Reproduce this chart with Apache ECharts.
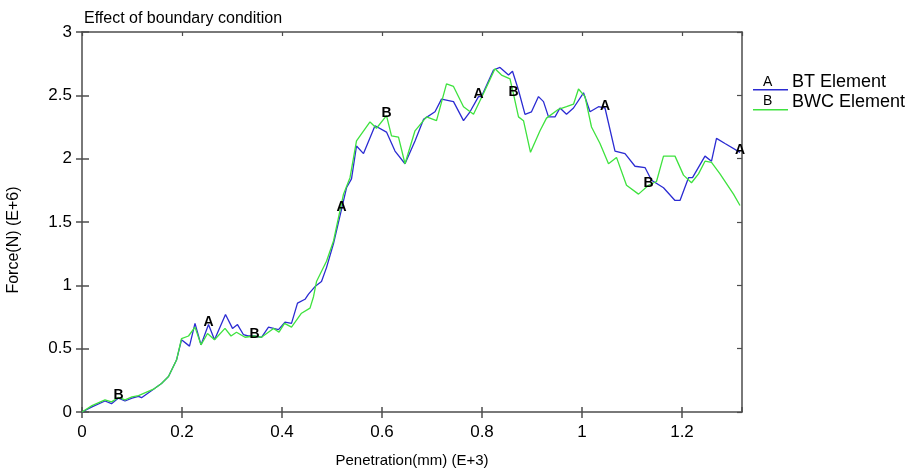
<!DOCTYPE html>
<html>
<head>
<meta charset="utf-8">
<script src="https://cdn.jsdelivr.net/npm/echarts@6/dist/echarts.min.js"></script>
<style>
  html, body { margin: 0; padding: 0; background: #fff; }
  #chart { width: 924px; height: 468px; }
</style>
</head>
<body>
<div id="chart"></div>
<script>
// values: penetration (E+3 mm) and force (E+6 N)
var btX = [0, 0.02, 0.046, 0.059, 0.073, 0.086, 0.10, 0.113, 0.119, 0.143, 0.159, 0.173, 0.189, 0.199,
  0.215, 0.226, 0.238, 0.253, 0.265, 0.287, 0.301, 0.311, 0.323, 0.332, 0.345, 0.359, 0.373, 0.393,
  0.406, 0.419, 0.431, 0.446, 0.453, 0.466, 0.479, 0.489, 0.503, 0.519, 0.529, 0.539, 0.549, 0.563,
  0.586, 0.609, 0.626, 0.646, 0.666, 0.683, 0.706, 0.719, 0.743, 0.763, 0.776, 0.793, 0.799, 0.823,
  0.836, 0.853, 0.861, 0.873, 0.886, 0.899, 0.913, 0.923, 0.933, 0.946, 0.956, 0.969, 0.983, 1.003,
  1.016, 1.033, 1.046, 1.066, 1.086, 1.106, 1.126, 1.139, 1.163, 1.186, 1.196, 1.213, 1.221, 1.246,
  1.259, 1.269, 1.286, 1.316];
var btY = [0, 0.04, 0.087, 0.066, 0.11, 0.087, 0.11, 0.124, 0.113, 0.18, 0.225, 0.28, 0.41, 0.57,
  0.52, 0.70, 0.53, 0.69, 0.57, 0.77, 0.66, 0.69, 0.61, 0.60, 0.60, 0.59, 0.67, 0.65,
  0.71, 0.70, 0.86, 0.89, 0.93, 0.99, 1.03, 1.14, 1.33, 1.60, 1.77, 1.84, 2.10, 2.04,
  2.26, 2.21, 2.06, 1.96, 2.14, 2.31, 2.37, 2.47, 2.45, 2.30, 2.37, 2.49, 2.49, 2.70,
  2.72, 2.66, 2.69, 2.54, 2.35, 2.37, 2.49, 2.45, 2.33, 2.33, 2.40, 2.35, 2.40, 2.52,
  2.37, 2.41, 2.40, 2.06, 2.04, 1.94, 1.93, 1.83, 1.77, 1.67, 1.67, 1.85, 1.85, 2.02,
  1.98, 2.16, 2.12, 2.05];

var bwcX = [0, 0.02, 0.046, 0.059, 0.073, 0.086, 0.10, 0.113, 0.143, 0.159, 0.173, 0.189, 0.199,
  0.213, 0.226, 0.238, 0.251, 0.265, 0.286, 0.298, 0.309, 0.326, 0.345, 0.359, 0.383, 0.394,
  0.405, 0.419, 0.439, 0.456, 0.463, 0.469, 0.489, 0.503, 0.523, 0.536, 0.549, 0.576, 0.589,
  0.609, 0.619, 0.633, 0.646, 0.666, 0.689, 0.709, 0.729, 0.743, 0.763, 0.783, 0.806, 0.826,
  0.839, 0.856, 0.863, 0.873, 0.883, 0.897, 0.916, 0.929, 0.953, 0.969, 0.983, 0.993, 1.006,
  1.019, 1.036, 1.053, 1.069, 1.089, 1.113, 1.133, 1.149, 1.163, 1.186, 1.203, 1.219, 1.233,
  1.246, 1.259, 1.276, 1.303, 1.316];
var bwcY = [0, 0.05, 0.095, 0.08, 0.115, 0.095, 0.12, 0.13, 0.18, 0.225, 0.28, 0.41, 0.58,
  0.60, 0.67, 0.53, 0.62, 0.57, 0.66, 0.60, 0.63, 0.59, 0.60, 0.59, 0.66, 0.63,
  0.70, 0.67, 0.78, 0.82, 0.91, 1.03, 1.19, 1.35, 1.72, 1.85, 2.14, 2.29, 2.24,
  2.34, 2.18, 2.17, 1.96, 2.22, 2.33, 2.30, 2.59, 2.57, 2.41, 2.35, 2.54, 2.71,
  2.66, 2.63, 2.51, 2.33, 2.30, 2.05, 2.22, 2.32, 2.39, 2.41, 2.43, 2.55, 2.49,
  2.25, 2.12, 1.96, 2.01, 1.79, 1.72, 1.79, 1.82, 2.02, 2.02, 1.87, 1.81, 1.88,
  1.98, 1.97, 1.88, 1.72, 1.63];

// where the curve letters sit
var btMarks = [0.253, 0.519, 0.793, 1.046, 1.316];
var bwcMarks = [0.073, 0.345, 0.609, 0.863, 1.133];

var xTicks = [0, 0.2, 0.4, 0.6, 0.8, 1, 1.2];
var yTicks = [0, 0.5, 1, 1.5, 2, 2.5, 3];

var seriesNames = ["BT Element", "BWC Element"];
var seriesLetters = ["A", "B"];
var seriesColors = ["#2b2bd2", "#3ee23e"];

var FONT = "'Liberation Sans', Arial, sans-serif";

function buildData(xs, ys, marks, letter) {
  var out = [];
  for (var i = 0; i < xs.length; i++) {
    if (marks.indexOf(xs[i]) !== -1) {
      out.push({ value: [xs[i], ys[i]], label: { show: true, formatter: letter } });
    } else {
      out.push([xs[i], ys[i]]);
    }
  }
  return out;
}

var dom = document.getElementById("chart");
var myChart = echarts.init(dom, null, { renderer: "canvas" });

var lineCol = "#4d4d4d";

function lineSeries(idx, xs, ys, marks) {
  return {
    name: seriesNames[idx],
    type: "line",
    xAxisIndex: 0,
    yAxisIndex: 0,
    data: buildData(xs, ys, marks, seriesLetters[idx]),
    showSymbol: true,
    symbol: "circle",
    symbolSize: 0.0001,
    animation: false,
    color: seriesColors[idx],
    lineStyle: { color: seriesColors[idx], width: 1.3 },
    itemStyle: { color: seriesColors[idx] },
    label: {
      show: false,
      position: "inside",
      offset: [0, -2],
      color: "#000",
      fontFamily: FONT,
      fontSize: 14,
      fontWeight: "bold"
    },
    emphasis: { disabled: true }
  };
}

var plainAxis = {
  type: "value",
  axisLabel: { show: false },
  splitLine: { show: false }
};

// icon: thin line at the bottom of a 35x20 box
var legendIcon = "path://M0,0h0.01v0.01h-0.01zM0,17h35v1.4h-35zM34.99,19.99h0.01v0.01h-0.01z";

var option = {
  backgroundColor: "#fff",
  animation: false,
  title: {
    text: "Effect of boundary condition",
    left: 84,
    top: 11,
    padding: 0,
    textStyle: { fontFamily: FONT, fontSize: 16, fontWeight: "normal", color: "#000" }
  },
  legend: {
    orient: "vertical",
    left: 753,
    top: 72,
    padding: 0,
    itemWidth: 35,
    itemHeight: 20,
    itemGap: 0,
    icon: legendIcon,
    data: seriesNames,
    textStyle: { fontFamily: FONT, fontSize: 18, color: "#000", padding: [0, 0, 0, -1] }
  },
  graphic: [
    { type: "text", left: 763, top: 75, style: { text: seriesLetters[0], font: "14px " + FONT, fill: "#000" } },
    { type: "text", left: 763, top: 94, style: { text: seriesLetters[1], font: "14px " + FONT, fill: "#000" } }
  ],
  grid: { left: 82, right: 182, top: 32, bottom: 56, outerBoundsMode: "none", containLabel: false },
  xAxis: [
    {
      type: "value",
      position: "bottom",
      min: xTicks[0],
      max: 1.32,
      interval: 0.2,
      name: "Penetration(mm) (E+3)",
      nameLocation: "middle",
      nameGap: 41,
      nameTextStyle: { fontFamily: FONT, fontSize: 15, color: "#000" },
      axisLine: { show: true, onZero: false, lineStyle: { color: lineCol, width: 1.5 } },
      axisTick: { show: true, inside: false, length: 6, lineStyle: { color: lineCol, width: 1.5 } },
      axisLabel: {
        show: true, margin: 12, showMaxLabel: false,
        fontFamily: FONT, fontSize: 17, color: "#000",
        formatter: function (v) { return xTicks.indexOf(+v.toFixed(2)) !== -1 ? String(+v.toFixed(2)) : ""; }
      },
      splitLine: { show: false }
    },
    Object.assign({}, plainAxis, {
      position: "bottom", min: xTicks[0], max: 1.32, interval: 0.2,
      axisLine: { show: false },
      axisTick: { show: true, inside: true, length: 5, lineStyle: { color: lineCol, width: 1.5 } }
    }),
    Object.assign({}, plainAxis, {
      position: "top", min: xTicks[0], max: 1.32, interval: 0.2,
      axisLine: { show: true, onZero: false, lineStyle: { color: lineCol, width: 1.5 } },
      axisTick: { show: true, inside: true, length: 4, lineStyle: { color: lineCol, width: 1.2 } }
    })
  ],
  yAxis: [
    {
      type: "value",
      position: "left",
      min: yTicks[0],
      max: yTicks[yTicks.length - 1],
      interval: 0.5,
      name: "Force(N) (E+6)",
      nameLocation: "middle",
      nameGap: 60,
      nameTextStyle: { fontFamily: FONT, fontSize: 16, color: "#000", padding: [0, 36, 0, 0] },
      axisLine: { show: true, onZero: false, lineStyle: { color: lineCol, width: 1.5 } },
      axisTick: { show: true, inside: false, length: 6, lineStyle: { color: lineCol, width: 1.5 } },
      axisLabel: { show: true, margin: 10, fontFamily: FONT, fontSize: 17, color: "#000" },
      splitLine: { show: false }
    },
    Object.assign({}, plainAxis, {
      position: "left", min: 0, max: 3, interval: 0.5,
      axisLine: { show: false },
      axisTick: { show: true, inside: true, length: 7, lineStyle: { color: lineCol, width: 1.5 } }
    }),
    Object.assign({}, plainAxis, {
      position: "right", min: 0, max: 3, interval: 0.5,
      axisLine: { show: true, onZero: false, lineStyle: { color: lineCol, width: 1.5 } },
      axisTick: { show: true, inside: true, length: 5, lineStyle: { color: lineCol, width: 1.2 } }
    })
  ],
  series: [
    lineSeries(0, btX, btY, btMarks),
    lineSeries(1, bwcX, bwcY, bwcMarks)
  ]
};

myChart.setOption(option);
</script>
</body>
</html>
